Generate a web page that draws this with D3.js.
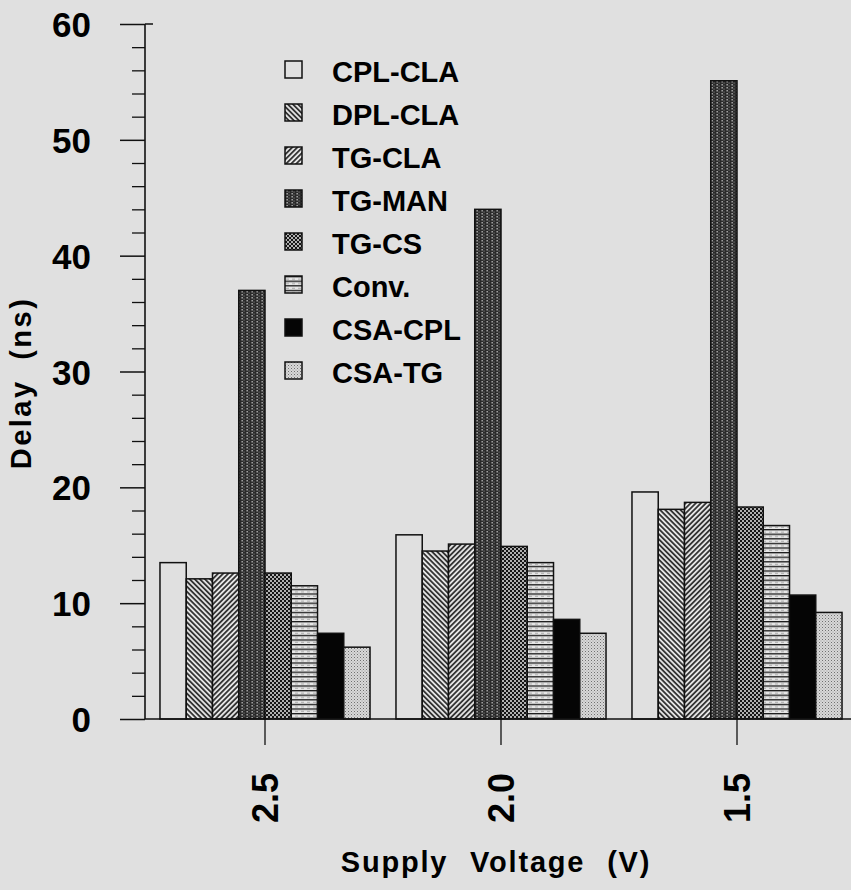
<!DOCTYPE html>
<html>
<head>
<meta charset="utf-8">
<script src="https://cdn.jsdelivr.net/npm/d3@7"></script>
<style>
  html, body { margin: 0; padding: 0; background: #e0e0e0; }
  svg { display: block; font-family: "Liberation Sans", Arial, Helvetica, sans-serif; }
</style>
</head>
<body>
<svg id="chart" width="851" height="890"></svg>
<script>
// ---- data ----
const voltages = ["2.5", "2.0", "1.5"];
const seriesNames = ["CPL-CLA", "DPL-CLA", "TG-CLA", "TG-MAN", "TG-CS", "Conv.", "CSA-CPL", "CSA-TG"];
const cplCla = [13.5, 15.9, 19.6];
const dplCla = [12.1, 14.5, 18.1];
const tgCla  = [12.6, 15.1, 18.7];
const tgMan  = [37.0, 44.0, 55.1];
const tgCs   = [12.6, 14.9, 18.3];
const conv   = [11.5, 13.5, 16.7];
const csaCpl = [7.4, 8.6, 10.7];
const csaTg  = [6.2, 7.4, 9.2];
const yMajorTicks = [0, 10, 20, 30, 40, 50, 60];
const yMinorTicks = [2, 4, 6, 8, 12, 14, 16, 18, 22, 24, 26, 28, 32, 34, 36, 38, 42, 44, 46, 48, 52, 54, 56, 58];

const seriesValues = [cplCla, dplCla, tgCla, tgMan, tgCs, conv, csaCpl, csaTg];

const svg = d3.select("#chart");
const W = 851, H = 890;
svg.append("rect").attr("width", W).attr("height", H).attr("fill", "#e0e0e0");

// ---- patterns ----
const defs = svg.append("defs");
const BG = "#e0e0e0";
function hatch(id, angle, gap, sw) {
  const p = defs.append("pattern").attr("id", id).attr("patternUnits", "userSpaceOnUse")
    .attr("width", gap).attr("height", gap).attr("patternTransform", `rotate(${angle})`);
  p.append("rect").attr("width", gap).attr("height", gap).attr("fill", "#e4e4e4");
  p.append("line").attr("x1", gap / 2).attr("x2", gap / 2).attr("y1", 0).attr("y2", gap)
    .attr("stroke", "#111").attr("stroke-width", sw);
}
hatch("p-dpl", -45, 3.6, 1.5);
hatch("p-tgcla", 45, 3.6, 1.5);
{
  const p = defs.append("pattern").attr("id", "p-tgman").attr("patternUnits", "userSpaceOnUse")
    .attr("width", 5).attr("height", 3);
  p.append("rect").attr("width", 5).attr("height", 3).attr("fill", "#2a2a2a");
  p.append("rect").attr("x", 1.5).attr("y", 0).attr("width", 1.3).attr("height", 1.5).attr("fill", "#b8b8b8");
  p.append("rect").attr("x", 3.6).attr("y", 1.5).attr("width", 0.9).attr("height", 1.2).attr("fill", "#8a8a8a");
}
{
  const p = defs.append("pattern").attr("id", "p-tgcs").attr("patternUnits", "userSpaceOnUse")
    .attr("width", 4).attr("height", 4);
  p.append("rect").attr("width", 4).attr("height", 4).attr("fill", "#b0b0b0");
  p.append("rect").attr("x", 0).attr("y", 0).attr("width", 2).attr("height", 2).attr("fill", "#151515");
  p.append("rect").attr("x", 2).attr("y", 2).attr("width", 2).attr("height", 2).attr("fill", "#151515");
}
{
  const p = defs.append("pattern").attr("id", "p-conv").attr("patternUnits", "userSpaceOnUse")
    .attr("width", 6).attr("height", 4.6);
  p.append("rect").attr("width", 6).attr("height", 4.6).attr("fill", "#e6e6e6");
  p.append("rect").attr("y", 0).attr("width", 6).attr("height", 1.3).attr("fill", "#1a1a1a");
  p.append("rect").attr("x", 1).attr("y", 2.6).attr("width", 3).attr("height", 0.8).attr("fill", "#9a9a9a");
}
{
  const p = defs.append("pattern").attr("id", "p-csatg").attr("patternUnits", "userSpaceOnUse")
    .attr("width", 3).attr("height", 3);
  p.append("rect").attr("width", 3).attr("height", 3).attr("fill", "#d8d8d8");
  p.append("rect").attr("x", 0).attr("y", 0).attr("width", 1).attr("height", 1).attr("fill", "#707070");
  p.append("rect").attr("x", 1.5).attr("y", 1.5).attr("width", 1).attr("height", 1).attr("fill", "#999");
}
const fills = [BG, "url(#p-dpl)", "url(#p-tgcla)", "url(#p-tgman)", "url(#p-tgcs)", "url(#p-conv)", "#050505", "url(#p-csatg)"];

// ---- scales ----
const y = d3.scaleLinear().domain([0, 60]).range([719, 24]);
const x0 = d3.scaleBand().domain(voltages).range([147, 855]).paddingInner(0.11).paddingOuter(0.055);
const x1 = d3.scaleBand().domain(seriesNames).range([0, x0.bandwidth()]);
const axisX = 145;

// ---- bars ----
const rows = [];
voltages.forEach((v, i) => seriesNames.forEach((s, j) => rows.push({ v, s, j, val: seriesValues[j][i] })));
svg.append("g").selectAll("rect").data(rows).join("rect")
  .attr("x", d => x0(d.v) + x1(d.s))
  .attr("y", d => y(d.val))
  .attr("width", x1.bandwidth())
  .attr("height", d => y(0) - y(d.val))
  .attr("fill", d => fills[d.j])
  .attr("stroke", "#111")
  .attr("stroke-width", 1.5);

// ---- y axis ----
const gy = svg.append("g").attr("transform", `translate(${axisX},0)`)
  .call(d3.axisLeft(y).tickValues(yMajorTicks).tickSize(25).tickPadding(29).tickFormat(d3.format("d")));
gy.select(".domain").remove();
gy.selectAll("line").attr("stroke", "#111").attr("stroke-width", 1.5);
gy.selectAll("text").attr("font-size", 35).attr("font-weight", "bold").attr("fill", "#000").attr("dy", "0.36em");
const gym = svg.append("g").attr("transform", `translate(${axisX},0)`)
  .call(d3.axisLeft(y).tickValues(yMinorTicks).tickSize(13).tickFormat(""));
gym.select(".domain").remove();
gym.selectAll("line").attr("stroke", "#111").attr("stroke-width", 1.3);
svg.append("line").attr("x1", axisX).attr("x2", axisX).attr("y1", y(60)).attr("y2", y(0))
  .attr("stroke", "#111").attr("stroke-width", 1.6);
svg.append("line").attr("x1", axisX).attr("x2", axisX + 8).attr("y1", y(60)).attr("y2", y(60))
  .attr("stroke", "#111").attr("stroke-width", 1.5);

// ---- x axis ----
const gx = svg.append("g").attr("transform", `translate(0,${y(0)})`)
  .call(d3.axisBottom(x0).tickSize(26).tickSizeOuter(0));
gx.select(".domain").remove();
gx.selectAll("line").attr("stroke", "#111").attr("stroke-width", 1.3);
gx.selectAll("text")
  .attr("font-size", 36).attr("font-weight", "bold").attr("fill", "#000")
  .attr("transform", "rotate(-90)")
  .attr("text-anchor", "end")
  .attr("x", -54).attr("y", 0).attr("dy", "0.35em");
svg.append("line").attr("x1", axisX).attr("x2", W).attr("y1", y(0)).attr("y2", y(0))
  .attr("stroke", "#111").attr("stroke-width", 1.6);

// ---- axis titles ----
svg.append("text").attr("x", 496).attr("y", 872).attr("text-anchor", "middle")
  .attr("font-size", 29).attr("font-weight", "bold").attr("letter-spacing", 1.8).attr("word-spacing", 12)
  .text("Supply Voltage (V)");
svg.append("text").attr("transform", "translate(31,383) rotate(-90)").attr("text-anchor", "middle")
  .attr("font-size", 29).attr("font-weight", "bold").attr("letter-spacing", 2.5).attr("word-spacing", 9)
  .text("Delay (ns)");

// ---- legend ----
const lg = svg.append("g");
const items = lg.selectAll("g").data(seriesNames).join("g")
  .attr("transform", (d, i) => `translate(285,${61 + i * 43})`);
items.append("rect").attr("width", 17).attr("height", 17)
  .attr("fill", (d, i) => fills[i]).attr("stroke", "#111").attr("stroke-width", 1.5);
items.append("text").attr("x", 47).attr("y", 21)
  .attr("font-size", 29).attr("font-weight", "bold").attr("fill", "#000")
  .text(d => d);
</script>
</body>
</html>
